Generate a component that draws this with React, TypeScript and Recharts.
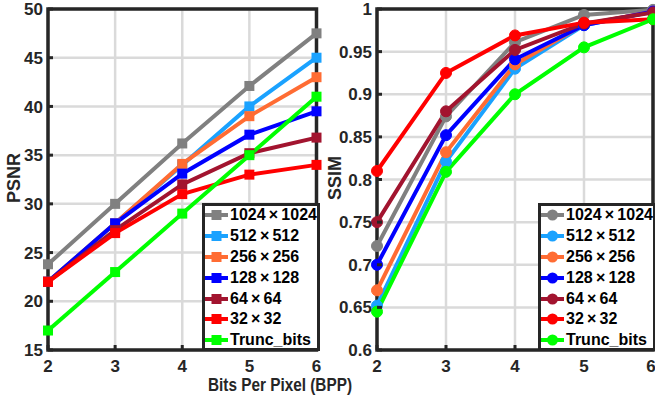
import { LineChart, Line, XAxis, YAxis, CartesianGrid, ReferenceArea } from "recharts";

// x values (bits per pixel)
const bpp = [2, 3, 4, 5, 6];

// series labels and colours
const seriesNames = ["1024\u2009×\u20091024", "512\u2009×\u2009512", "256\u2009×\u2009256", "128\u2009×\u2009128", "64\u2009×\u200964", "32\u2009×\u200932", "Trunc_bits"];
const seriesColors = ["#808080", "#1aa2ff", "#ff6c33", "#0000ff", "#a2142f", "#ff0000", "#00ff00"];

// PSNR per series
const psnr1024 = [23.8, 30, 36.2, 42.1, 47.5];
const psnr512 = [22, 28, 34, 40, 45];
const psnr256 = [22, 28, 34.1, 39, 43];
const psnr128 = [22, 28, 33.1, 37.1, 39.5];
const psnr64 = [22, 27.3, 32, 35.2, 36.8];
const psnr32 = [22, 27, 31, 33, 34];
const psnrTrunc = [17, 23, 29, 35, 41];

// SSIM per series
const ssim1024 = [0.722, 0.874, 0.961, 0.993, 0.999];
const ssim512 = [0.652, 0.821, 0.93, 0.981, 0.997];
const ssim256 = [0.67, 0.832, 0.935, 0.982, 0.997];
const ssim128 = [0.7, 0.852, 0.941, 0.981, 0.997];
const ssim64 = [0.75, 0.88, 0.952, 0.983, 0.996];
const ssim32 = [0.81, 0.925, 0.969, 0.984, 0.988];
const ssimTrunc = [0.645, 0.809, 0.9, 0.955, 0.988];

const psnrTicks = [15, 20, 25, 30, 35, 40, 45, 50];
const ssimTicks = [0.6, 0.65, 0.7, 0.75, 0.8, 0.85, 0.9, 0.95, 1];

const psnrSeries = [psnr1024, psnr512, psnr256, psnr128, psnr64, psnr32, psnrTrunc];
const ssimSeries = [ssim1024, ssim512, ssim256, ssim128, ssim64, ssim32, ssimTrunc];

const keys = ["s0", "s1", "s2", "s3", "s4", "s5", "s6"];

const toRows = (series: number[][]) =>
  bpp.map((b, i) => {
    const row: Record<string, number> = { bpp: b };
    series.forEach((s, k) => {
      row[keys[k]] = s[i];
    });
    return row;
  });

const psnrData = toRows(psnrSeries);
const ssimData = toRows(ssimSeries);

const FRAME = "#262626";
const GRID = "#dadada";
const FONT = '"Liberation Sans", Arial, sans-serif';

const BottomTick = (props: any) => {
  const { x, y, payload } = props;
  return (
    <g>
      <line x1={x} y1={y} x2={x} y2={y - 5} stroke={FRAME} strokeWidth={3} />
      <text x={x} y={y + 22} textAnchor="middle" fontSize={17} fontWeight="bold" fill={FRAME} fontFamily={FONT}>
        {payload.value}
      </text>
    </g>
  );
};

const TopTick = (props: any) => {
  const { x, y } = props;
  return <line x1={x} y1={y} x2={x} y2={y + 5} stroke={FRAME} strokeWidth={3} />;
};

const LeftTick = (props: any) => {
  const { x, y, payload } = props;
  return (
    <g>
      <line x1={x} y1={y} x2={x + 5} y2={y} stroke={FRAME} strokeWidth={3} />
      <text x={x - 5} y={y} dy="0.36em" textAnchor="end" fontSize={17} fontWeight="bold" fill={FRAME} fontFamily={FONT}>
        {payload.value}
      </text>
    </g>
  );
};

const RightTick = (props: any) => {
  const { x, y } = props;
  return <line x1={x} y1={y} x2={x - 5} y2={y} stroke={FRAME} strokeWidth={3} />;
};

const squareDot = (color: string) => (props: any) => {
  const { cx, cy, index } = props;
  return <rect key={`sq-${index}`} x={cx - 5} y={cy - 5} width={10} height={10} fill={color} />;
};

interface PanelProps {
  data: Record<string, number>[];
  domain: [number, number];
  ticks: number[];
  width: number;
  marginRight: number;
  yWidth: number;
  marker: "square" | "circle";
}

const Panel = ({ data, domain, ticks, width, marginRight, yWidth, marker }: PanelProps) => (
  <LineChart width={width} height={401} data={data} margin={{ top: 9, right: marginRight, bottom: 0, left: 0 }}>
    <CartesianGrid stroke={GRID} strokeWidth={2.5} />
    <XAxis
      dataKey="bpp"
      type="number"
      domain={[2, 6]}
      ticks={bpp}
      height={51}
      axisLine={false}
      tickLine={false}
      tickSize={0}
      tickMargin={0}
      tick={<BottomTick />}
    />
    <XAxis
      xAxisId="top"
      orientation="top"
      dataKey="bpp"
      type="number"
      domain={[2, 6]}
      ticks={bpp}
      height={0}
      axisLine={false}
      tickLine={false}
      tickSize={0}
      tickMargin={0}
      tick={<TopTick />}
    />
    <YAxis
      type="number"
      domain={domain}
      ticks={ticks}
      width={yWidth}
      axisLine={false}
      tickLine={false}
      tickSize={0}
      tickMargin={0}
      tick={<LeftTick />}
    />
    <YAxis
      yAxisId="right"
      orientation="right"
      type="number"
      domain={domain}
      ticks={ticks}
      width={0}
      axisLine={false}
      tickLine={false}
      tickSize={0}
      tickMargin={0}
      tick={<RightTick />}
    />
    <ReferenceArea x1={2} x2={6} y1={domain[0]} y2={domain[1]} fill="none" fillOpacity={0} stroke={FRAME} strokeWidth={3.5} />
    {keys.map((k, i) => (
      <Line
        key={k}
        dataKey={k}
        stroke={seriesColors[i]}
        strokeWidth={4}
        isAnimationActive={false}
        dot={marker === "square" ? squareDot(seriesColors[i]) : { r: 5.5, fill: seriesColors[i], stroke: seriesColors[i], strokeWidth: 1 }}
      />
    ))}
  </LineChart>
);

const LegendBox = ({ left, marker }: { left: number; marker: "square" | "circle" }) => (
  <div
    style={{
      position: "absolute",
      left,
      top: 203,
      width: 118,
      height: 148,
      boxSizing: "border-box",
      border: `3px solid ${FRAME}`,
      background: "#fff",
    }}
  >
    {seriesNames.map((name, i) => (
      <div key={name} style={{ height: 20.8, display: "flex", alignItems: "center", marginTop: i === 0 ? -1 : 0 }}>
        <svg width={25} height={14} style={{ flex: "none" }}>
          <line x1={0} y1={7} x2={23} y2={7} stroke={seriesColors[i]} strokeWidth={4} />
          {marker === "square" ? (
            <rect x={6.5} y={2} width={10} height={10} fill={seriesColors[i]} />
          ) : (
            <circle cx={11.5} cy={7} r={5.5} fill={seriesColors[i]} />
          )}
        </svg>
        <span style={{ fontFamily: FONT, fontWeight: "bold", fontSize: 16, color: "#000", whiteSpace: "nowrap", lineHeight: "16px" }}>
          {name}
        </span>
      </div>
    ))}
  </div>
);

export default function App() {
  return (
    <div
      style={{
        position: "absolute",
        left: 0,
        top: 0,
        width: 655,
        height: 401,
        background: "#fff",
        overflow: "hidden",
      }}
    >
      <div style={{ position: "absolute", left: 0, top: 0 }}>
        <Panel data={psnrData} domain={[15, 50]} ticks={psnrTicks} width={330} marginRight={13.5} yWidth={48} marker="square" />
      </div>
      <div style={{ position: "absolute", left: 330, top: 0 }}>
        <Panel data={ssimData} domain={[0.6, 1]} ticks={ssimTicks} width={325} marginRight={2} yWidth={47} marker="circle" />
      </div>
      <LegendBox left={202} marker="square" />
      <LegendBox left={538} marker="circle" />
      <svg width={655} height={401} style={{ position: "absolute", left: 0, top: 0, pointerEvents: "none" }}>
        <text
          x={0}
          y={0}
          transform="translate(20 178) rotate(-90)"
          textAnchor="middle"
          fontSize={18}
          fontWeight="bold"
          fill={FRAME}
          fontFamily={FONT}
        >
          PSNR
        </text>
        <text
          x={0}
          y={0}
          transform="translate(341 178) rotate(-90)"
          textAnchor="middle"
          fontSize={18}
          fontWeight="bold"
          fill={FRAME}
          fontFamily={FONT}
        >
          SSIM
        </text>
        <text
          x={280}
          y={391}
          textAnchor="middle"
          fontSize={18}
          fontWeight="bold"
          fill={FRAME}
          fontFamily={FONT}
          textLength={144}
          lengthAdjust="spacingAndGlyphs"
        >
          Bits Per Pixel (BPP)
        </text>
      </svg>
    </div>
  );
}
